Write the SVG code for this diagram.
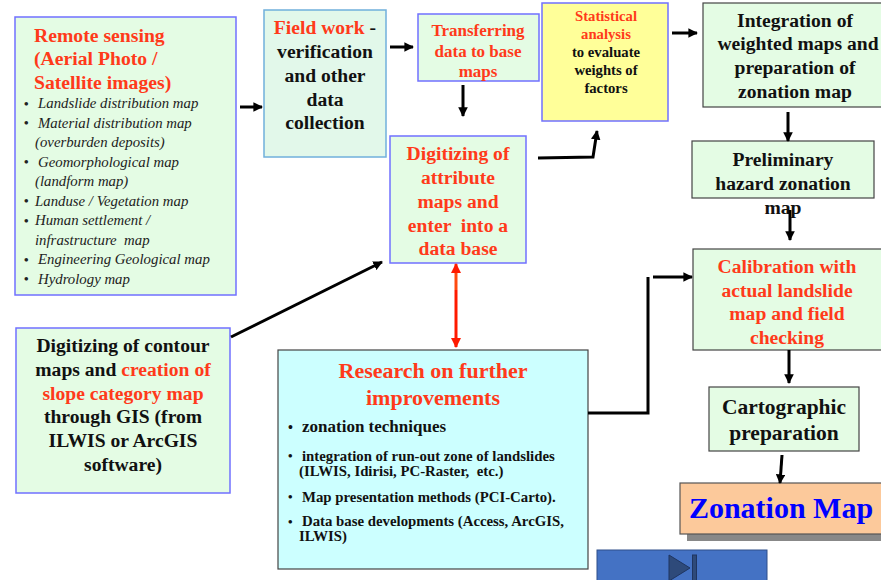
<svg xmlns="http://www.w3.org/2000/svg" width="881" height="580" viewBox="0 0 881 580">
<style>
text{font-family:"Liberation Serif","Times New Roman",serif;font-weight:bold;}
.c{text-anchor:middle;}
.r{fill:#ff3a1a;}
.k{fill:#111;}
.it{font-style:italic;font-weight:normal;font-size:14.8px;fill:#222;}
.bl{font-size:13px;fill:#222;font-weight:normal;}
.gb{fill:#e4fce4;stroke:#7070ff;stroke-width:1.5;}
.gg{fill:#e4fce4;stroke:#444;stroke-width:1.2;}
.ln{stroke:#000;stroke-width:3;fill:none;}
.m{font-size:19.6px;}
</style>
<defs>
<marker id="ah" viewBox="0 0 10 10" refX="9" refY="5" markerWidth="3.2" markerHeight="3.2" orient="auto" markerUnits="strokeWidth">
<path d="M0,0 L10,5 L0,10 Z" fill="#000"/>
</marker>
<marker id="rh" viewBox="0 0 10 10" refX="9" refY="5" markerWidth="3.5" markerHeight="3.5" orient="auto" markerUnits="strokeWidth">
<path d="M0,0 L10,5 L0,10 Z" fill="#ff1a00"/>
</marker>
</defs>
<rect width="881" height="580" fill="#fff"/>

<g id="remote-sensing">
<rect class="gb" x="15" y="17" width="221" height="278"/>
<text class="r" font-size="19.7" x="34" y="42">Remote sensing</text>
<text class="r" font-size="19.7" x="34" y="65">(Aerial Photo /</text>
<text class="r" font-size="19.7" x="34" y="89">Satellite images)</text>
<g class="bl"><text x="24" y="107.5">•</text><text x="24" y="127">•</text><text x="24" y="166">•</text><text x="24" y="205">•</text><text x="24" y="224.5">•</text><text x="24" y="263.5">•</text><text x="24" y="283">•</text></g>
<text class="it" x="38" y="108">Landslide distribution map</text>
<text class="it" x="38" y="127.5">Material distribution map</text>
<text class="it" x="35" y="147">(overburden deposits)</text>
<text class="it" x="38" y="166.5">Geomorphological map</text>
<text class="it" x="35" y="186">(landform map)</text>
<text class="it" x="35" y="205.5">Landuse / Vegetation map</text>
<text class="it" x="35" y="225">Human settlement /</text>
<text class="it" x="35" y="244.5" xml:space="preserve">infrastructure  map</text>
<text class="it" x="38" y="264">Engineering Geological map</text>
<text class="it" x="38" y="283.5">Hydrology map</text>
</g>

<g id="field-work">
<rect x="264" y="10" width="122" height="147" fill="#e2f8ea" stroke="#70b0dc" stroke-width="1.5"/>
<text class="c m" x="325" y="34"><tspan class="r">Field work</tspan><tspan class="k"> -</tspan></text>
<text class="c k m" x="325" y="58">verification</text>
<text class="c k m" x="325" y="82">and other</text>
<text class="c k m" x="325" y="106">data</text>
<text class="c k m" x="325" y="129">collection</text>
</g>

<g id="transferring">
<rect class="gb" x="418" y="14" width="121" height="67"/>
<text class="c r" font-size="17" x="478" y="36">Transferring</text>
<text class="c r" font-size="17" x="478" y="57">data to base</text>
<text class="c r" font-size="17" x="478" y="77">maps</text>
</g>

<g id="digitizing-attribute">
<rect class="gb" x="390" y="136" width="136" height="127"/>
<text class="c r m" x="458" y="160">Digitizing of</text>
<text class="c r m" x="458" y="184">attribute</text>
<text class="c r m" x="458" y="208">maps and</text>
<text class="c r m" x="458" y="232" xml:space="preserve">enter  into a</text>
<text class="c r m" x="458" y="255">data base</text>
</g>

<g id="statistical">
<rect x="542" y="3" width="126" height="118" fill="#ffff99" stroke="#7070ff" stroke-width="1.5"/>
<text class="c r" font-size="14.7" x="606" y="21">Statistical</text>
<text class="c r" font-size="14.7" x="606" y="39">analysis</text>
<text class="c k" font-size="14.7" x="606" y="57">to evaluate</text>
<text class="c k" font-size="14.7" x="606" y="75">weights of</text>
<text class="c k" font-size="14.7" x="606" y="93">factors</text>
</g>

<g id="integration">
<rect class="gg" x="703" y="3" width="180" height="104"/>
<text class="c k m" x="795" y="27">Integration of</text>
<text class="c k m" x="798" y="50">weighted maps and</text>
<text class="c k m" x="795" y="74">preparation of</text>
<text class="c k m" x="795" y="98">zonation map</text>
</g>

<g id="preliminary">
<rect class="gg" x="692" y="141" width="182" height="57"/>
<text class="c k m" x="783" y="166">Preliminary</text>
<text class="c k m" x="783" y="190">hazard zonation</text>
<text class="c k m" x="783" y="214">map</text>
</g>

<g id="calibration">
<rect class="gg" x="693" y="249" width="190" height="101"/>
<text class="c r m" x="787" y="273">Calibration with</text>
<text class="c r m" x="787" y="297">actual landslide</text>
<text class="c r m" x="787" y="320">map and field</text>
<text class="c r m" x="787" y="344">checking</text>
</g>

<g id="cartographic">
<rect class="gg" x="709" y="387" width="150" height="64"/>
<text class="c k" font-size="21.5" x="784" y="414">Cartographic</text>
<text class="c k" font-size="21.5" x="784" y="440">preparation</text>
</g>

<g id="zonation-map">
<rect x="687" y="490" width="200" height="51" fill="#888"/>
<rect x="680" y="483" width="203" height="51" fill="#fcc99b" stroke="#555" stroke-width="1.2"/>
<text class="c" font-size="30" fill="#0000ff" x="781" y="518">Zonation Map</text>
</g>

<g id="research">
<rect x="278" y="350" width="310" height="219" fill="#ccffff" stroke="#444" stroke-width="1.2"/>
<text class="c r" font-size="22" x="433" y="378">Research on further</text>
<text class="c r" font-size="22" x="433" y="405">improvements</text>
<text class="k" font-size="14" x="288" y="432">•</text>
<text class="k" font-size="17" x="302" y="432">zonation techniques</text>
<text class="k" font-size="13" x="288" y="460">•</text>
<text class="k" font-size="14.8" x="302" y="461">integration of run-out zone of landslides</text>
<text class="k" font-size="14.8" x="299" y="476" xml:space="preserve">(ILWIS, Idirisi, PC-Raster,  etc.)</text>
<text class="k" font-size="13" x="288" y="501">•</text>
<text class="k" font-size="14.8" x="302" y="502">Map presentation methods (PCI-Carto).</text>
<text class="k" font-size="13" x="288" y="526">•</text>
<text class="k" font-size="14.8" x="302" y="526">Data base developments (Access, ArcGIS,</text>
<text class="k" font-size="14.8" x="299" y="541">ILWIS)</text>
</g>

<g id="contour">
<rect class="gb" x="16" y="328" width="214" height="165"/>
<text class="c k m" x="123" y="352">Digitizing of contour</text>
<text class="c m" x="123" y="376"><tspan class="k">maps and </tspan><tspan class="r">creation of</tspan></text>
<text class="c r m" x="123" y="400">slope category map</text>
<text class="c k m" x="123" y="423">through GIS (from</text>
<text class="c k m" x="123" y="447">ILWIS or ArcGIS</text>
<text class="c k m" x="123" y="471">software)</text>
</g>

<g id="nav-button">
<rect x="597" y="550" width="170" height="35" fill="#4472c4" stroke="#2f4f8a" stroke-width="1"/>
<path d="M669,555 L690,568 L669,581 Z" fill="#2e4a7a" stroke="#1f3560" stroke-width="1"/>
<rect x="692.5" y="555" width="4" height="30" fill="#2e4a7a" stroke="#1f3560" stroke-width="1"/>
</g>

<g id="connectors">
<line class="ln" x1="240" y1="107" x2="262" y2="107" marker-end="url(#ah)"/>
<line class="ln" x1="390" y1="47" x2="413" y2="47" marker-end="url(#ah)"/>
<line class="ln" x1="463" y1="85" x2="463" y2="116" marker-end="url(#ah)"/>
<path class="ln" d="M538,158 L593,157 L597,131" marker-end="url(#ah)"/>
<line class="ln" x1="672" y1="33" x2="697" y2="33" marker-end="url(#ah)"/>
<line class="ln" x1="788" y1="112" x2="788" y2="141" marker-end="url(#ah)"/>
<line class="ln" x1="790" y1="210" x2="790" y2="240" marker-end="url(#ah)"/>
<line class="ln" x1="789" y1="350" x2="789" y2="383" marker-end="url(#ah)"/>
<line class="ln" x1="782" y1="455" x2="780" y2="483" marker-end="url(#ah)"/>
<line class="ln" x1="231" y1="337" x2="382" y2="262" marker-end="url(#ah)"/>
<path class="ln" d="M588,413 L648,413 L648,277" />
<line class="ln" x1="653" y1="277" x2="692" y2="277" marker-end="url(#ah)"/>
<line x1="456" y1="290" x2="456" y2="264" stroke="#ff4a10" stroke-width="3" marker-end="url(#rh)"/>
<line x1="456" y1="290" x2="456" y2="347" stroke="#ff1a00" stroke-width="3" marker-end="url(#rh)"/>
</g>
</svg>
